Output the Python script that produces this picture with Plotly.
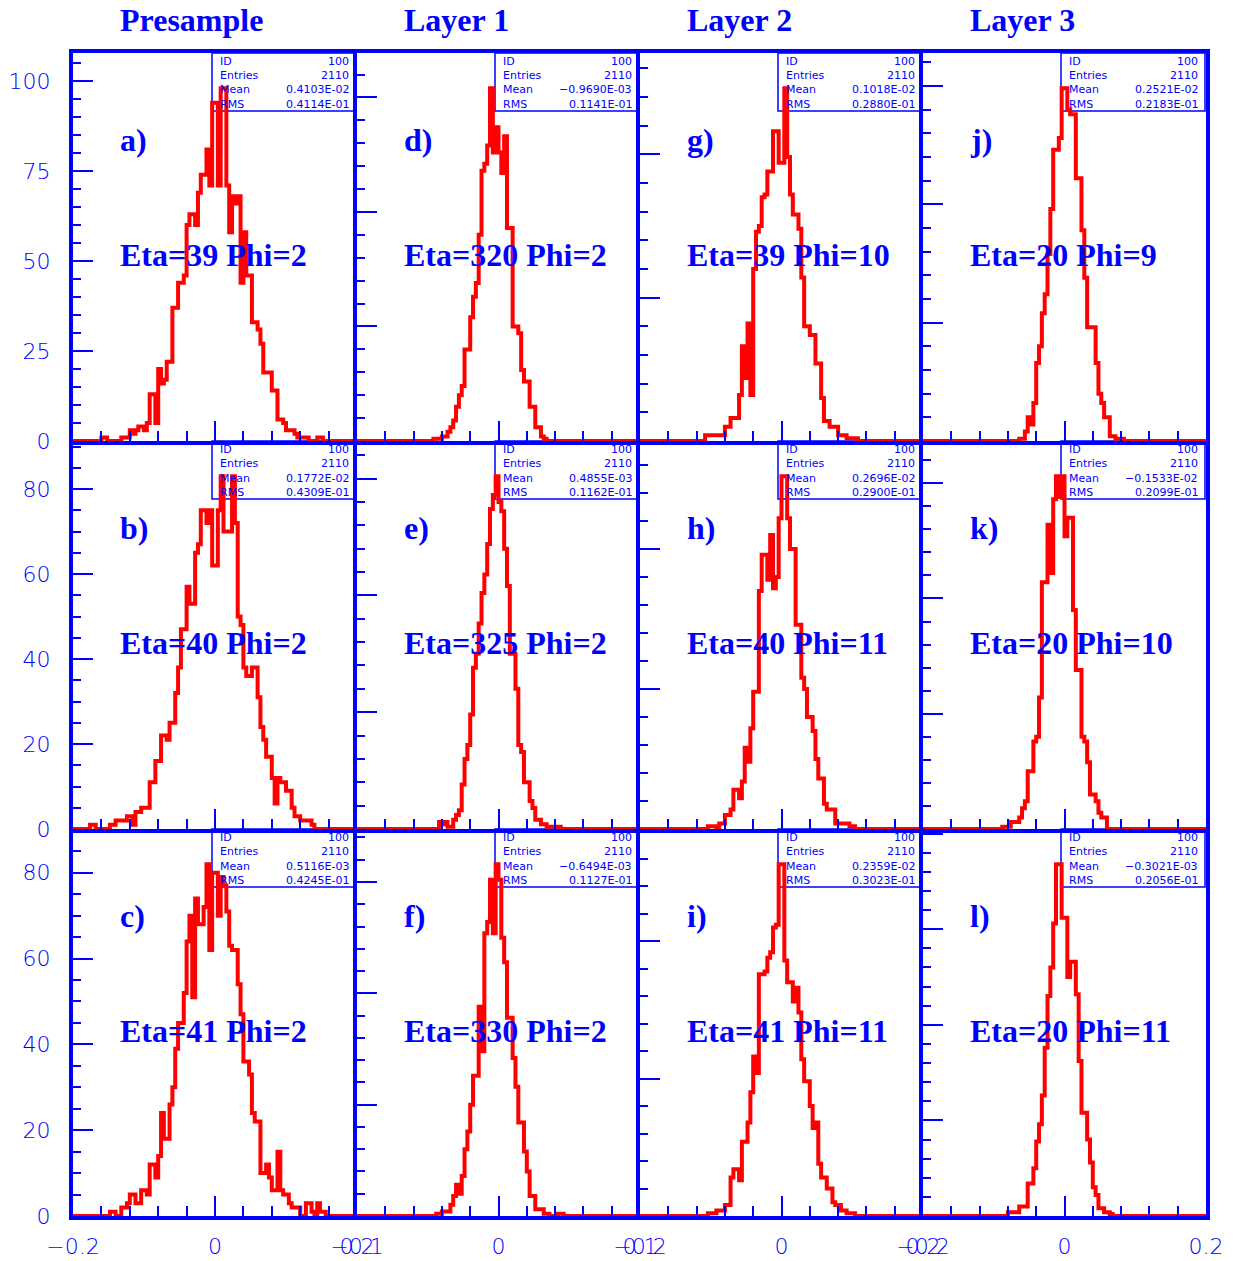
import plotly.graph_objects as go

W, H = 1237, 1261
N_BINS = 100
ENTRIES = 2110

# ---------------- data ----------------
column_titles = ["Presample", "Layer 1", "Layer 2", "Layer 3"]
x_low = [-0.2, -0.1, -0.2, -0.2]
x_high = [0.2, 0.1, 0.2, 0.2]

letters = [["a)", "d)", "g)", "j)"],
           ["b)", "e)", "h)", "k)"],
           ["c)", "f)", "i)", "l)"]]
cell_names = [["Eta=39 Phi=2", "Eta=320 Phi=2", "Eta=39 Phi=10", "Eta=20 Phi=9"],
              ["Eta=40 Phi=2", "Eta=325 Phi=2", "Eta=40 Phi=11", "Eta=20 Phi=10"],
              ["Eta=41 Phi=2", "Eta=330 Phi=2", "Eta=41 Phi=11", "Eta=20 Phi=11"]]
mean_text = [["0.4103E-02", "\u22120.9690E-03", "0.1018E-02", "0.2521E-02"],
             ["0.1772E-02", "0.4855E-03", "0.2696E-02", "\u22120.1533E-02"],
             ["0.5116E-03", "\u22120.6494E-03", "0.2359E-02", "\u22120.3021E-03"]]
rms_text = [["0.4114E-01", "0.1141E-01", "0.2880E-01", "0.2183E-01"],
            ["0.4309E-01", "0.1162E-01", "0.2900E-01", "0.2099E-01"],
            ["0.4245E-01", "0.1127E-01", "0.3023E-01", "0.2056E-01"]]

# first non-empty bin index of each histogram, followed by its bin contents
first_a = 10
counts_a = [1, 1, 0, 0, 0, 0, 0, 1, 1, 1, 3, 2, 3, 4, 4, 3, 5, 13, 13, 5, 20, 16, 17, 22, 22,
            37, 37, 44, 44, 46, 60, 63, 63, 60, 69, 74, 74, 81, 71, 94, 94, 71, 98, 98, 71, 58,
            68, 66, 68, 44, 58, 46, 46, 33, 33, 31, 27, 19, 19, 19, 14, 14, 6, 6, 5, 3, 3, 3, 2,
            1, 1, 1, 1, 0, 0, 0, 1, 1]
first_d = 27
counts_d = [1, 1, 1, 2, 2, 4, 6, 9, 15, 20, 24, 40, 40, 54, 63, 69, 90, 118, 121, 129, 154, 126,
            137, 126, 117, 133, 93, 93, 50, 50, 47, 31, 26, 26, 15, 15, 6, 6, 2, 1]
first_g = 23
counts_g = [2, 2, 2, 2, 2, 2, 2, 5, 5, 8, 8, 8, 16, 33, 22, 41, 16, 60, 73, 75, 85, 86, 94, 94,
            108, 108, 97, 97, 123, 99, 86, 79, 79, 74, 57, 40, 40, 37, 37, 27, 27, 15, 7, 7, 5,
            5, 5, 2, 2, 2, 1, 1, 1, 1]
first_j = 34
counts_j = [1, 1, 4, 10, 7, 16, 33, 40, 54, 62, 79, 98, 123, 123, 128, 149, 149, 140, 138, 138,
            111, 111, 89, 69, 48, 48, 48, 33, 20, 16, 10, 10, 2, 2, 1, 1, 1]
first_b = 6
counts_b = [1, 1, 0, 0, 0, 0, 0, 1, 1, 2, 2, 2, 2, 3, 3, 1, 4, 4, 5, 5, 5, 11, 11, 16, 16, 22,
            22, 21, 25, 25, 32, 38, 47, 47, 57, 53, 53, 65, 67, 75, 75, 72, 75, 62, 62, 75, 83,
            70, 70, 70, 83, 72, 50, 48, 38, 36, 36, 38, 38, 31, 24, 21, 17, 17, 12, 6, 12, 11,
            11, 9, 9, 5, 3, 3, 2, 2, 2, 2, 1]
first_e = 29
counts_e = [3, 2, 3, 1, 1, 4, 6, 8, 19, 30, 36, 49, 69, 75, 88, 101, 109, 122, 137, 143, 151,
            140, 136, 120, 104, 75, 75, 60, 36, 33, 20, 20, 12, 9, 4, 4, 2, 2, 1, 1, 1, 1, 1]
first_h = 24
counts_h = [1, 1, 1, 0, 2, 2, 5, 5, 7, 14, 14, 11, 17, 29, 24, 36, 49, 49, 85, 98, 98, 89, 105,
            86, 90, 111, 126, 126, 111, 100, 100, 73, 73, 54, 50, 40, 40, 35, 25, 18, 18, 9, 7,
            7, 7, 2, 2, 2, 2, 2, 1, 1]
first_k = 28
counts_k = [1, 1, 1, 3, 3, 3, 5, 9, 12, 25, 25, 38, 40, 57, 107, 107, 132, 111, 143, 153, 144,
            153, 127, 135, 135, 95, 69, 69, 40, 38, 29, 15, 15, 12, 7, 5, 5]
first_c = 13
counts_c = [1, 1, 0, 0, 2, 2, 3, 5, 5, 3, 3, 6, 6, 5, 12, 12, 9, 14, 24, 18, 18, 26, 30, 39, 45,
            45, 52, 64, 70, 51, 74, 68, 68, 72, 82, 62, 80, 80, 70, 79, 77, 71, 63, 62, 62, 54,
            47, 36, 36, 33, 24, 22, 22, 10, 10, 12, 9, 6, 6, 15, 6, 5, 5, 3, 2, 2, 2, 0, 0, 3,
            3, 1, 0, 3, 1, 1]
first_f = 28
counts_f = [1, 1, 2, 2, 2, 5, 9, 14, 10, 18, 30, 38, 50, 63, 63, 94, 74, 127, 132, 151, 127, 158,
            151, 125, 114, 89, 89, 71, 58, 42, 42, 29, 20, 9, 9, 3, 3, 3, 1, 1, 0, 0, 0, 1, 1]
first_i = 24
counts_i = [1, 1, 1, 2, 2, 2, 4, 4, 14, 17, 17, 13, 27, 27, 34, 45, 58, 52, 88, 88, 89, 94, 96,
            105, 106, 128, 128, 93, 85, 85, 78, 83, 74, 57, 49, 49, 40, 32, 34, 19, 14, 14, 10,
            10, 5, 4, 4, 2, 2, 1, 1, 1]
first_l = 30
counts_l = [2, 2, 2, 2, 5, 5, 5, 17, 17, 25, 39, 48, 63, 88, 115, 130, 153, 184, 184, 156, 156,
            125, 133, 133, 116, 81, 54, 54, 40, 28, 15, 11, 4, 4, 2, 2, 1]

hist_grid = [[(first_a, counts_a), (first_d, counts_d), (first_g, counts_g), (first_j, counts_j)],
             [(first_b, counts_b), (first_e, counts_e), (first_h, counts_h), (first_k, counts_k)],
             [(first_c, counts_c), (first_f, counts_f), (first_i, counts_i), (first_l, counts_l)]]

y_major_step = [[25, 50, 50, 50], [20, 50, 50, 50], [20, 50, 50, 50]]
y_minor_step = [[5, 10, 10, 10], [5, 10, 10, 10], [5, 10, 10, 10]]

# ---------------- layout geometry (pixels) ----------------
col_edges = [73, 357, 640, 923, 1206]
row_edges = [53, 441, 829, 1216]
BLUE = "#0000ff"
RED = "#ff0000"


def px(x):
    return x / W


def py(y):
    return 1 - y / H


fig = go.Figure()
annotations = []
shapes = []
layout_axes = {}

big_font = dict(family="Liberation Serif", size=32, color=BLUE)
stat_font = dict(family="DejaVu Sans", size=11, color=BLUE)
tick_font = dict(family="DejaVu Sans", size=22, color=BLUE, weight=200)

k = 0
for r in range(3):
    for c in range(4):
        k += 1
        xa = "x" if k == 1 else f"x{k}"
        ya = "y" if k == 1 else f"y{k}"
        lo, hi = x_low[c], x_high[c]
        first, vals = hist_grid[r][c]
        full = [0] * N_BINS
        full[first:first + len(vals)] = vals
        step = (hi - lo) / N_BINS
        edges = [lo + step * i for i in range(N_BINS + 1)]
        ys = full + [full[-1]]
        fig.add_trace(go.Scatter(x=edges, y=ys, mode="lines", line_shape="hv",
                                 line=dict(color=RED, width=4), xaxis=xa, yaxis=ya,
                                 showlegend=False, hoverinfo="skip"))
        ymax = 1.1 * max(full)

        left, right = col_edges[c], col_edges[c + 1]
        top, bottom = row_edges[r], row_edges[r + 1]
        xdom = [px(left), px(right)]
        ydom = [py(bottom), py(top)]

        layout_axes["xaxis" if k == 1 else f"xaxis{k}"] = dict(
            domain=xdom, range=[lo, hi], anchor=ya, automargin=False,
            showline=True, linecolor=BLUE, linewidth=4, mirror=(r == 0),
            showgrid=False, zeroline=False,
            ticks="inside", ticklen=20, tickwidth=2, tickcolor=BLUE,
            tickmode="array", tickvals=[lo, 0, hi],
            minor=dict(ticks="inside", ticklen=10, tickwidth=1.5, tickcolor=BLUE,
                       dtick=(hi - lo) / 10, tick0=0, showgrid=False),
            showticklabels=(r == 2), tickfont=tick_font, ticklabelstandoff=8,
            fixedrange=True,
        )
        layout_axes["yaxis" if k == 1 else f"yaxis{k}"] = dict(
            domain=ydom, range=[0, ymax], anchor=xa, automargin=False,
            showline=True, linecolor=BLUE, linewidth=4, mirror=(c == 3),
            showgrid=False, zeroline=False,
            ticks="inside", ticklen=20, tickwidth=2, tickcolor=BLUE,
            tick0=0, dtick=y_major_step[r][c],
            minor=dict(ticks="inside", ticklen=8, tickwidth=1.5, tickcolor=BLUE,
                       dtick=y_minor_step[r][c], tick0=0, showgrid=False),
            showticklabels=(c == 0), tickfont=tick_font, ticklabelstandoff=14,
            fixedrange=True,
        )

        # statistics box
        bx0 = right - 145
        shapes.append(dict(type="rect", xref="paper", yref="paper",
                           x0=px(bx0), x1=px(right - 1), y0=py(top + 58), y1=py(top),
                           line=dict(color=BLUE, width=1.5), layer="below"))
        stat_rows = [("ID", "100"), ("Entries", str(ENTRIES)),
                     ("Mean", mean_text[r][c]), ("RMS", rms_text[r][c])]
        for j, (lab, val) in enumerate(stat_rows):
            yy = py(top + 8 + 14.5 * j)
            annotations.append(dict(text=lab, x=px(bx0 + 6), y=yy, xref="paper", yref="paper",
                                    xanchor="left", yanchor="middle", showarrow=False,
                                    font=stat_font))
            annotations.append(dict(text=val, x=px(right - 6), y=yy, xref="paper", yref="paper",
                                    xanchor="right", yanchor="middle", showarrow=False,
                                    font=stat_font))

        # panel letter and cell name
        annotations.append(dict(text="<b>" + letters[r][c] + "</b>", x=px(left + 45),
                                y=py(top + 87), xref="paper", yref="paper",
                                xanchor="left", yanchor="middle", showarrow=False, font=big_font))
        annotations.append(dict(text="<b>" + cell_names[r][c] + "</b>", x=px(left + 45),
                                y=py(top + 202), xref="paper", yref="paper",
                                xanchor="left", yanchor="middle", showarrow=False, font=big_font))

for c in range(4):
    annotations.append(dict(text="<b>" + column_titles[c] + "</b>", x=px(col_edges[c] + 45),
                            y=py(20), xref="paper", yref="paper", xanchor="left",
                            yanchor="middle", showarrow=False, font=big_font))

fig.update_layout(
    width=W, height=H,
    margin=dict(l=0, r=0, t=0, b=0, autoexpand=False),
    paper_bgcolor="white", plot_bgcolor="white",
    showlegend=False,
    annotations=annotations,
    shapes=shapes,
    **layout_axes,
)

fig.write_html("out.html",
               config={"displayModeBar": False},
               post_script="document.body.style.margin='0';document.body.style.padding='0';")
